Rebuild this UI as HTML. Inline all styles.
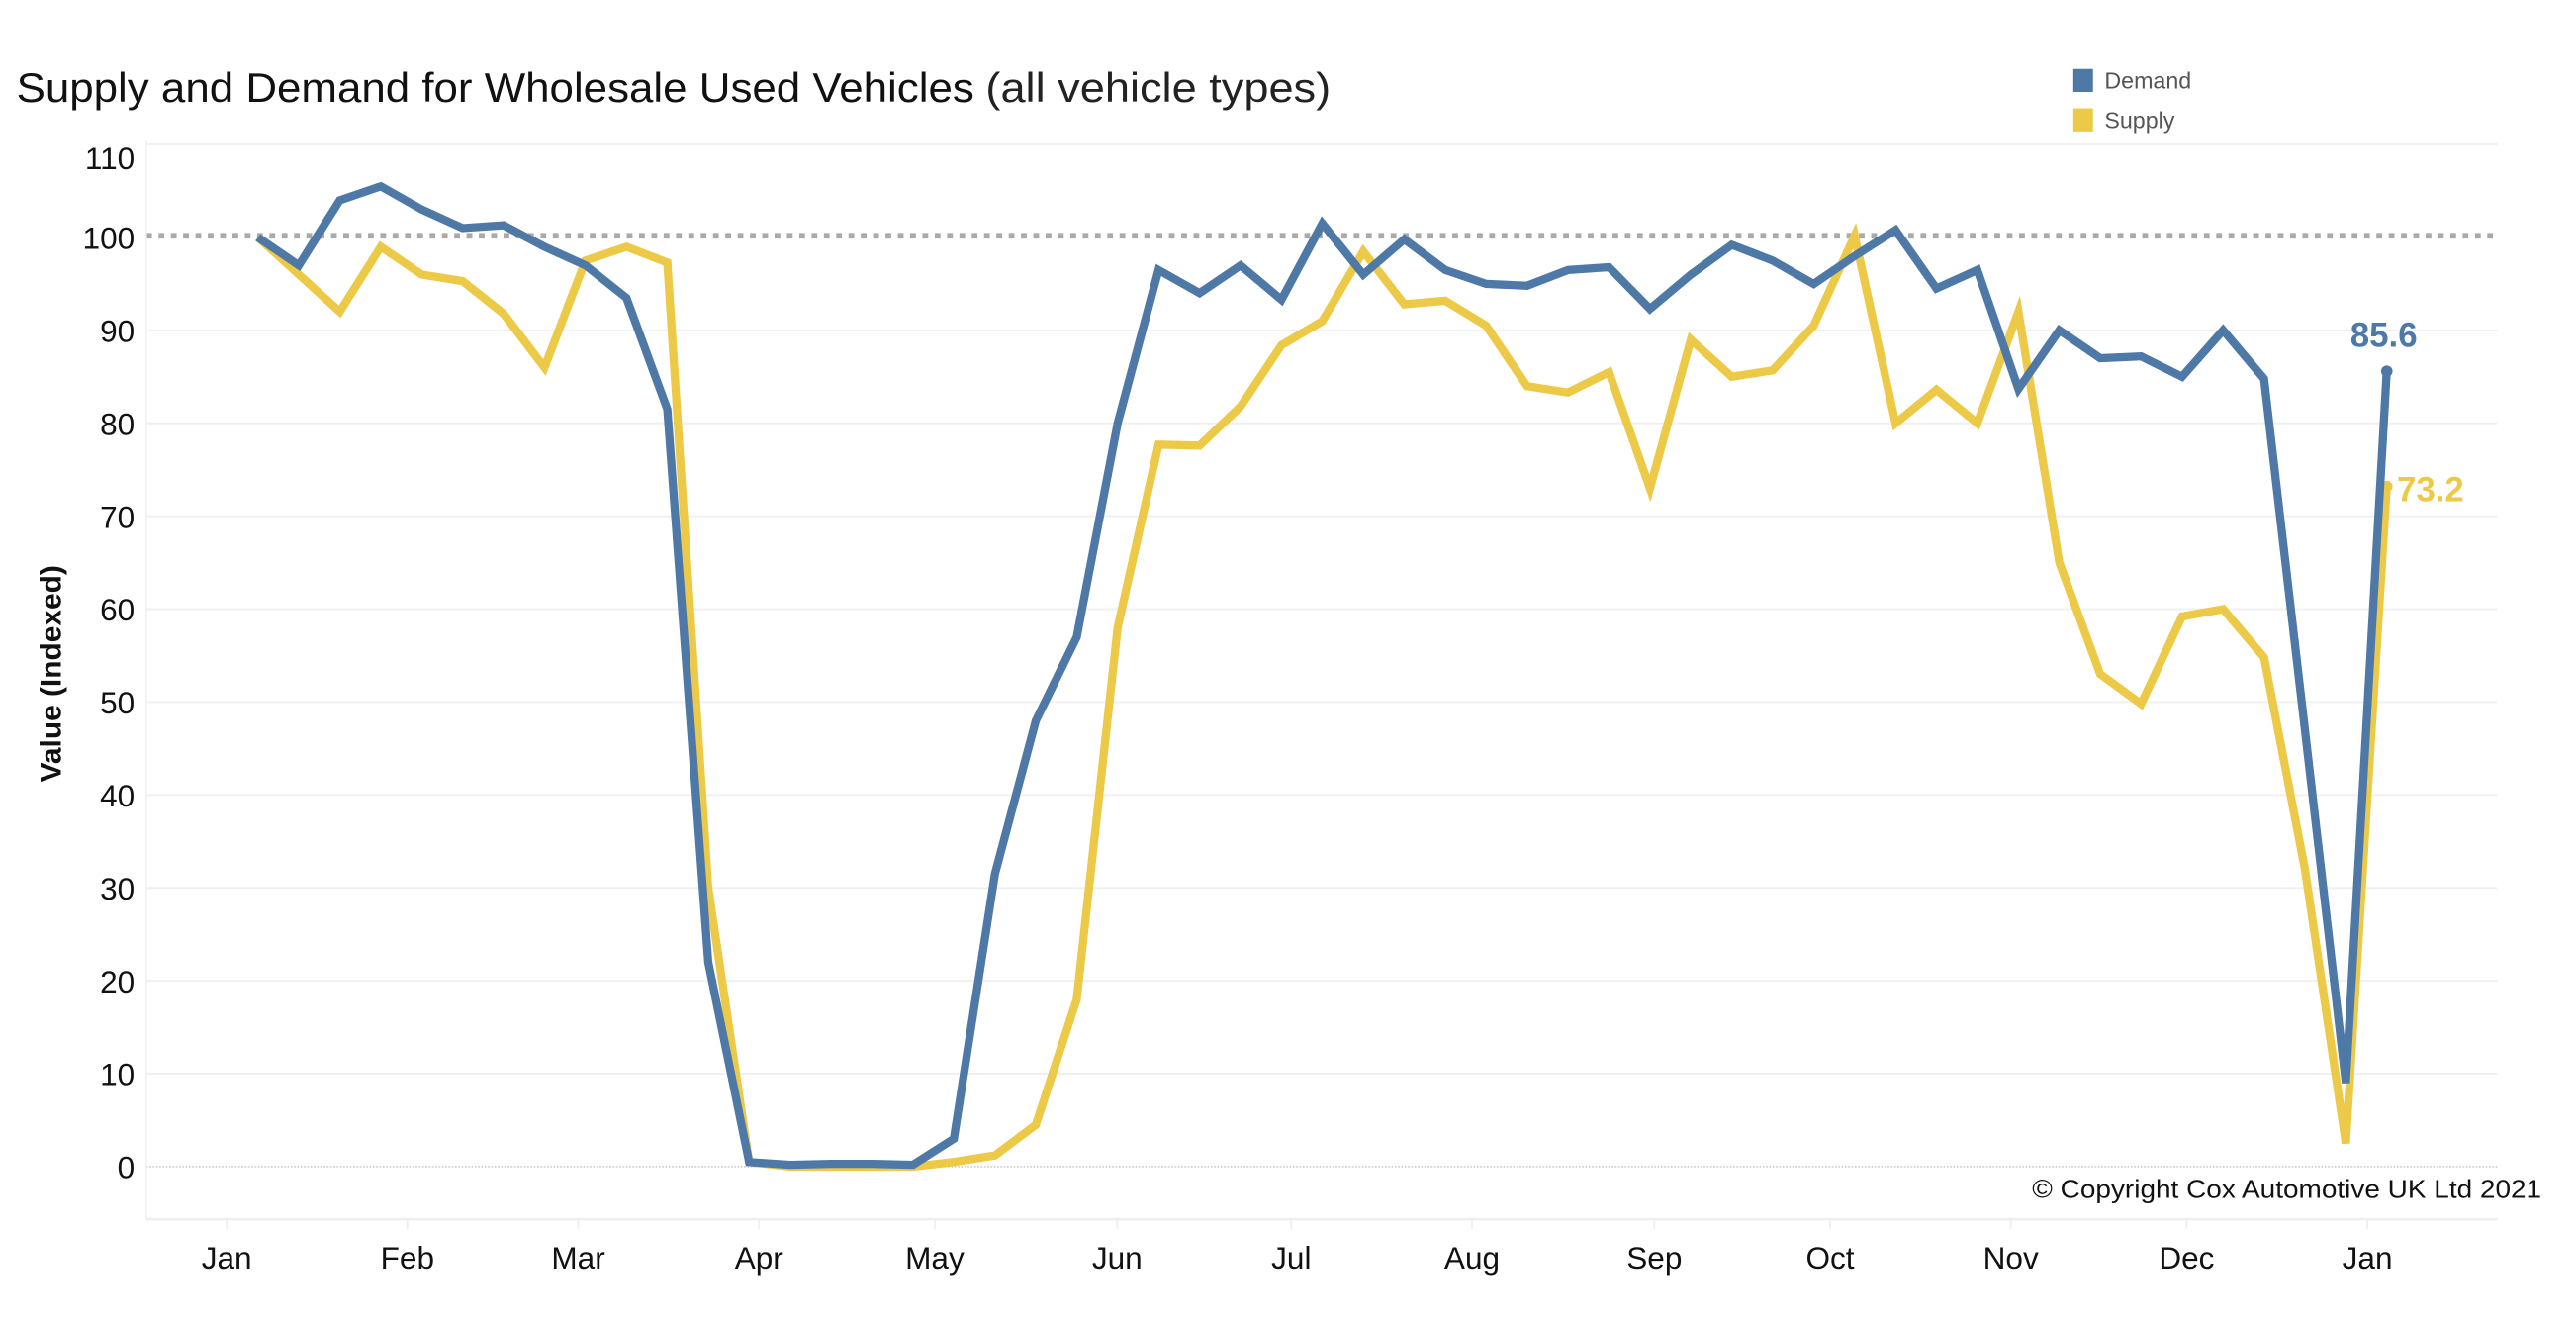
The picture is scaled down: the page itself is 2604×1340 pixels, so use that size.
<!DOCTYPE html>
<html><head><meta charset="utf-8"><style>
html,body{margin:0;padding:0;background:#fff;}
svg{display:block;}
</style></head><body>
<svg id="c" width="2604" height="1340" viewBox="0 0 1568 807" preserveAspectRatio="none" xmlns="http://www.w3.org/2000/svg" font-family="'Liberation Sans', 'DejaVu Sans', sans-serif">
<text x="10" y="62" font-size="25" fill="#111" textLength="583" lengthAdjust="spacingAndGlyphs">Supply and Demand for Wholesale Used Vehicles</text>
<text x="600" y="62" font-size="25" fill="#222" font-weight="300" textLength="210" lengthAdjust="spacingAndGlyphs">(all vehicle types)</text>
<rect x="1262" y="42" width="12" height="14" fill="#4e79a7"/>
<text x="1281" y="54" font-size="14" fill="#555">Demand</text>
<rect x="1262" y="66" width="12" height="14" fill="#edc948"/>
<text x="1281" y="78" font-size="14" fill="#555">Supply</text>
<g id="grid"></g>
<line x1="89" y1="143.5" x2="1520" y2="143.5" stroke="#aaa" stroke-width="3.5" stroke-dasharray="3.5 4"/>
<line x1="89" y1="710" x2="1520" y2="710" stroke="#ccc" stroke-width="1" stroke-dasharray="1 1"/>
<line x1="89" y1="742" x2="1520" y2="742" stroke="#eee" stroke-width="1.5"/>
<line x1="89" y1="85" x2="89" y2="742" stroke="#f2f2f2" stroke-width="1"/>
<text transform="translate(37,410) rotate(-90)" text-anchor="middle" font-size="18" font-weight="bold" fill="#111">Value (Indexed)</text>
<g id="lines"></g>
<text x="1237" y="729" font-size="15.5" fill="#111" textLength="310" lengthAdjust="spacingAndGlyphs">© Copyright Cox Automotive UK Ltd 2021</text>
<text x="1451" y="211" text-anchor="middle" font-size="21" font-weight="bold" fill="#4e79a7">85.6</text>
<text x="1459" y="305" font-size="21" font-weight="bold" fill="#edc948">73.2</text>
</svg>
<script>
var NS="http://www.w3.org/2000/svg";
function Y(v){return 710-v*5.655;}
var g=document.getElementById('grid');
for(var v=0;v<=110;v+=10){
 if(v>0&&v!=100){var l=document.createElementNS(NS,'line');l.setAttribute('x1',89);l.setAttribute('x2',1520);l.setAttribute('y1',Y(v));l.setAttribute('y2',Y(v));l.setAttribute('stroke','#f0f0f0');l.setAttribute('stroke-width','1.2');g.appendChild(l);}
 var t=document.createElementNS(NS,'text');t.setAttribute('x',82);t.setAttribute('y',Y(v)+7+(v==110?8:0));t.setAttribute('text-anchor','end');t.setAttribute('font-size','19');t.setAttribute('fill','#111');t.textContent=v;g.appendChild(t);
}
var months=[["Jan",138],["Feb",248],["Mar",352],["Apr",462],["May",569],["Jun",680],["Jul",786],["Aug",896],["Sep",1007],["Oct",1114],["Nov",1224],["Dec",1331],["Jan",1441]];
months.forEach(function(m){var t=document.createElementNS(NS,'text');t.setAttribute('x',m[1]);t.setAttribute('y',772);t.setAttribute('text-anchor','middle');t.setAttribute('font-size','19');t.setAttribute('fill','#111');t.textContent=m[0];g.appendChild(t);
var l=document.createElementNS(NS,'line');l.setAttribute('x1',m[1]);l.setAttribute('x2',m[1]);l.setAttribute('y1',742);l.setAttribute('y2',748);l.setAttribute('stroke','#eee');g.appendChild(l);});
var D=[100,97,104,105.5,103,101,101.3,99,97,93.5,81.5,22,0.5,0.2,0.3,0.3,0.2,3,31.5,48,57,80,96.5,94,97,93.3,101.5,96,99.8,96.5,95,94.8,96.5,96.8,92.3,96,99.2,97.5,95,98,100.8,94.5,96.5,83.7,90,87,87.2,85,90,84.8,47,9,85.6];
var S=[100,96,92,99,96,95.3,91.8,86,97.5,99,97.3,30,0.5,0,0,0,0,0.5,1.2,4.5,18,58,77.7,77.6,81.8,88.4,91,98.5,92.8,93.2,90.5,84,83.3,85.5,73,89,85,85.7,90.5,100.2,80,83.6,80,92,65,53,49.8,59.2,60,54.8,32,2.5,73.2];
var L=document.getElementById('lines');
function pl(arr,col){var p=arr.map(function(v,i){return (157+24.92*i).toFixed(1)+','+Y(v).toFixed(1);}).join(' ');
var e=document.createElementNS(NS,'polyline');e.setAttribute('points',p);e.setAttribute('fill','none');e.setAttribute('stroke',col);e.setAttribute('stroke-width','5');e.setAttribute('stroke-linejoin','miter');L.appendChild(e);
var c=document.createElementNS(NS,'circle');c.setAttribute('cx',157+24.92*52);c.setAttribute('cy',Y(arr[52]));c.setAttribute('r',3.5);c.setAttribute('fill',col);L.appendChild(c);}
pl(S,'#edc948');pl(D,'#4e79a7');
</script>
</body></html>
